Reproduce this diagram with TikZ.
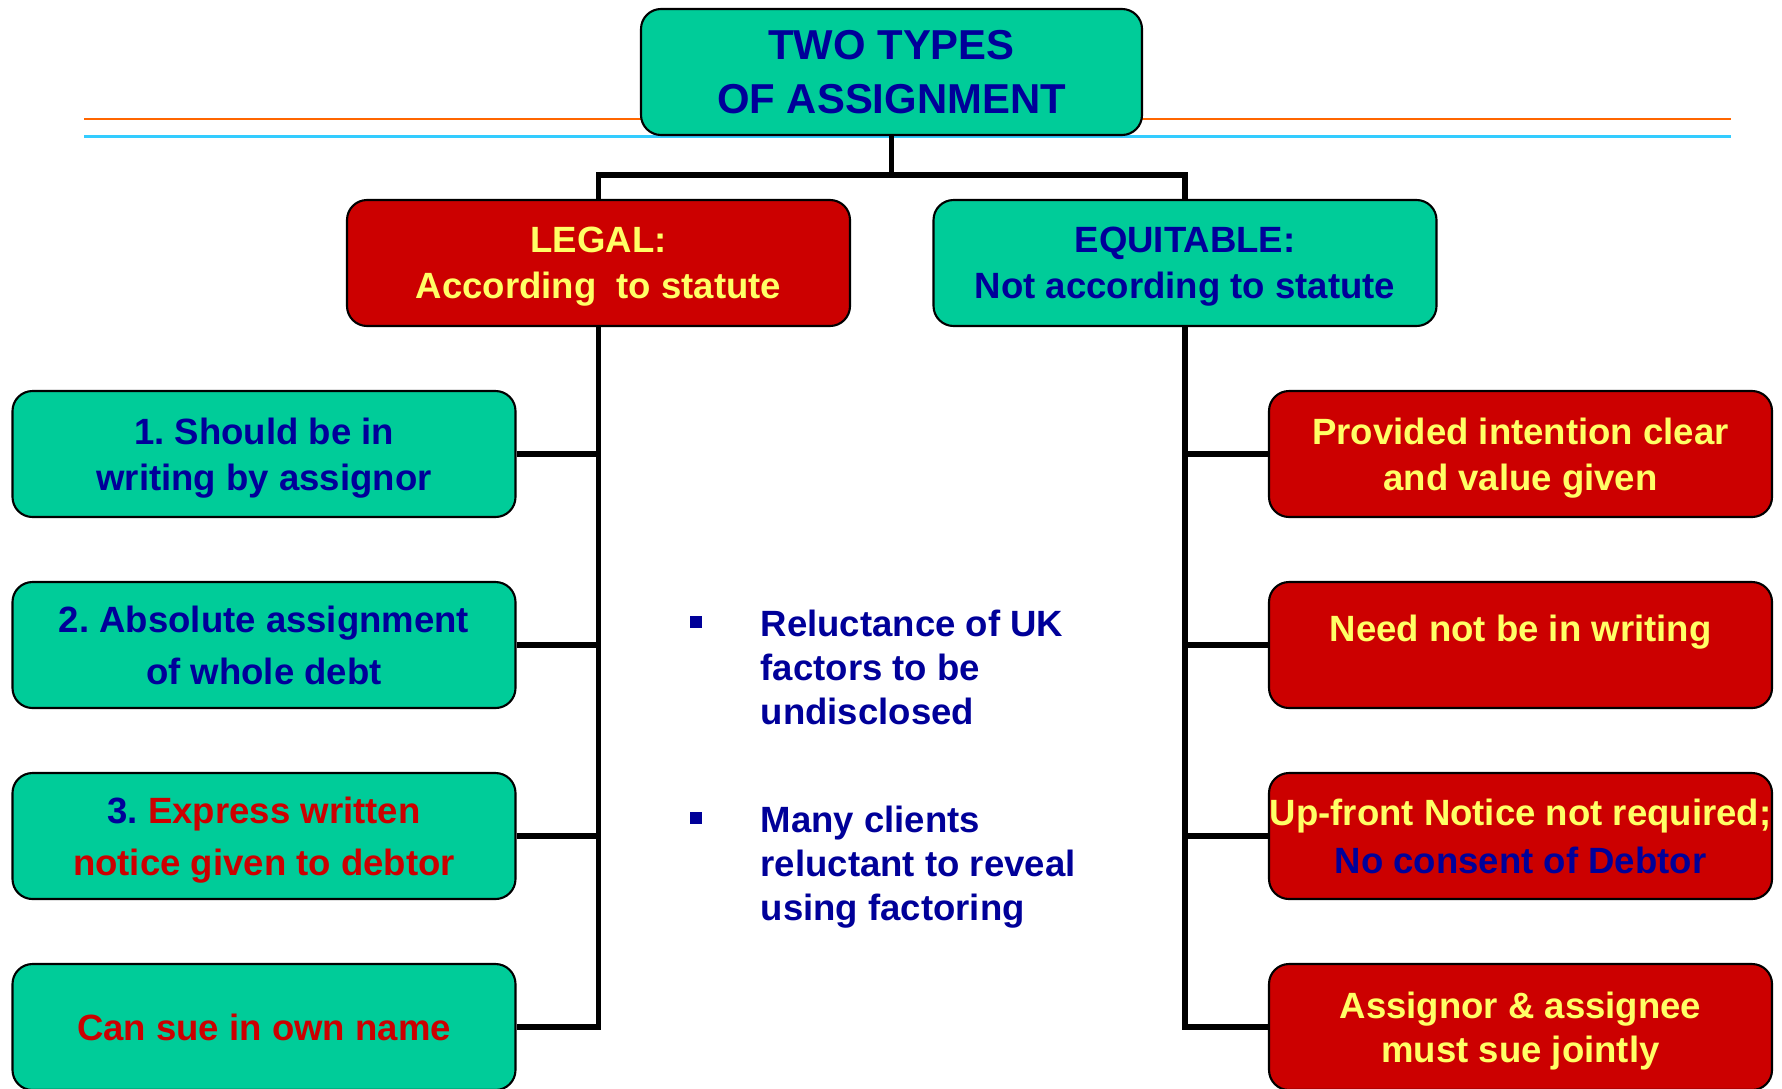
\documentclass[tikz,border=0pt]{standalone}
\usepackage{fontspec}
\setmainfont{Liberation Sans}
\frenchspacing
\definecolor{boxgreen}{HTML}{00CC99}
\definecolor{boxred}{HTML}{CC0000}
\definecolor{navy}{HTML}{000099}
\definecolor{lemon}{HTML}{FFFF66}
\definecolor{ruleorange}{HTML}{FF6600}
\definecolor{rulecyan}{HTML}{33CCFF}
\begin{document}
\begin{tikzpicture}[every node/.style={font=\fontsize{10.4}{13.1}\selectfont\bfseries},
  gbox/.style={draw=black,line width=0.6pt,fill=boxgreen,text=navy,rounded corners=0.2cm,
    minimum width=5.03cm,minimum height=1.26cm,inner sep=0pt,align=center,text depth=0pt},
  rbox/.style={gbox,fill=boxred,text=lemon},
  loose/.style={font=\fontsize{10.4}{14.8}\selectfont\bfseries},
  link/.style={line width=1.45pt}]
\useasboundingbox (0,0) rectangle (17.82,-10.88);
% header rules
\draw[ruleorange,line width=0.85pt] (0.84,-1.19) -- (17.31,-1.19);
\draw[rulecyan,line width=0.85pt] (0.84,-1.36) -- (17.31,-1.36);
% title and the two kinds
\node[gbox,minimum width=5.01cm,font=\fontsize{11.9}{15.2}\selectfont\bfseries] (top) at (8.915,-0.72) {TWO TYPES\\OF ASSIGNMENT};
\node[rbox] (legal) at (5.985,-2.63) {LEGAL:\\According\ \ to statute};
\node[gbox] (equit) at (11.85,-2.63) {EQUITABLE:\\Not according to statute};
\coordinate (jn) at (8.915,-1.75);
\draw[link] (top.south) -- (jn);
\draw[link] (legal.north) |- (jn) -| (equit.north);
% legal side
\node[gbox] (l1) at (2.64,-4.54) {1. Should be in\\writing by assignor};
\node[gbox,loose] (l2) at (2.64,-6.45) {2. Absolute assignment\\of whole debt};
\node[gbox,loose,text=boxred] (l3) at (2.64,-8.36) {{\color{navy}3.} Express written\\notice given to debtor};
\node[gbox,text=boxred] (l4) at (2.64,-10.27) {Can sue in own name};
\draw[link] (legal.south) |- (l4.east);
\foreach \n in {l1,l2,l3}
  \draw[link] (\n.east) -- (\n.east -| legal.south);
% equitable side
\node[rbox] (r1) at (15.205,-4.54) {Provided intention clear\\and value given};
\node[rbox] (r2) at (15.205,-6.45) {\raisebox{0.335cm}{Need not be in writing}};
\node[rbox,loose,font=\fontsize{10.4}{13.6}\selectfont\bfseries] (r3) at (15.205,-8.36) {\makebox[4.9cm]{Up-front Notice not required;}\\{\color{navy}No consent of Debtor}};
\node[rbox,font=\fontsize{10.4}{12.6}\selectfont\bfseries] (r4) at (15.205,-10.27) {Assignor \& assignee\\must sue jointly};
\draw[link] (equit.south) |- (r4.west);
\foreach \n in {r1,r2,r3}
  \draw[link] (\n.west) -- (\n.west -| equit.south);
% notes in the middle
\node[fill=navy,minimum size=0.12cm,inner sep=0pt] (b1) at (6.96,-6.22) {};
\node[fill=navy,minimum size=0.12cm,inner sep=0pt] (b2) at (6.96,-8.18) {};
\node[anchor=north west,align=left,inner sep=0pt,text=navy,font=\fontsize{10.4}{12.6}\selectfont\bfseries] (n1) at (7.60,-6.09) {Reluctance of UK\\factors to be\\undisclosed};
\node[anchor=north west,align=left,inner sep=0pt,text=navy,font=\fontsize{10.4}{12.6}\selectfont\bfseries] (n2) at (7.60,-8.05) {Many clients\\reluctant to reveal\\using factoring};
\end{tikzpicture}
\end{document}
